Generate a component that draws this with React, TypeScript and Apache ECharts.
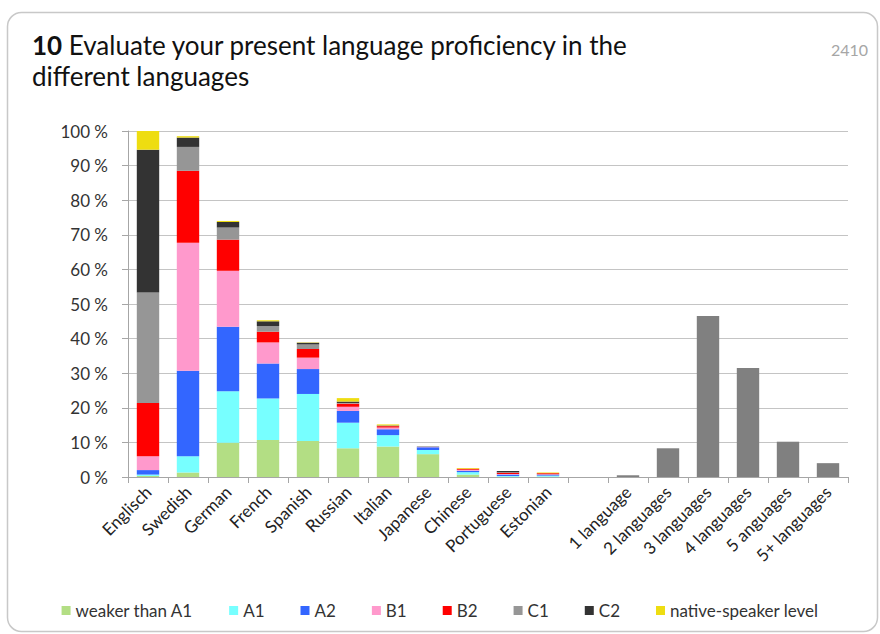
import React, { useEffect, useRef } from "react";
import * as echarts from "echarts";

const categories = [
  "Englisch", "Swedish", "German", "French", "Spanish", "Russian", "Italian",
  "Japanese", "Chinese", "Portuguese", "Estonian", "",
  "1 language", "2 languages", "3 languages", "4 languages", "5 anguages", "5+ languages",
];

const levelNames = ["weaker than A1", "A1", "A2", "B1", "B2", "C1", "C2", "native-speaker level"];
const levelColors = ["#b3de84", "#77ffff", "#3366ff", "#ff99cc", "#ff0000", "#969696", "#333333", "#eedd11"];

// values per language (first 11 categories), in percent
const weakerThanA1 = [0.3, 1.3, 9.9, 10.7, 10.4, 8.3, 8.8, 6.6, 0.7, 0.1, 0.1];
const a1 = [0.4, 4.7, 14.9, 12.0, 13.6, 7.4, 3.3, 1.2, 0.7, 0.2, 0.3];
const a2 = [1.3, 24.7, 18.6, 10.1, 7.2, 3.4, 1.7, 0.8, 0.4, 0.4, 0.3];
const b1 = [4.0, 37.0, 16.2, 6.1, 3.3, 1.2, 0.5, 0.1, 0.3, 0.2, 0.1];
const b2 = [15.4, 20.8, 9.0, 3.1, 2.5, 0.9, 0.4, 0.0, 0.3, 0.3, 0.3];
const c1 = [31.9, 6.9, 3.5, 1.6, 1.3, 0.2, 0.1, 0.2, 0.0, 0.2, 0.0];
const c2 = [41.3, 2.7, 1.6, 1.4, 0.5, 0.4, 0.1, 0.0, 0.0, 0.3, 0.0];
const native = [5.4, 0.4, 0.3, 0.3, 0.1, 1.0, 0.3, 0.0, 0.2, 0.0, 0.2];

// number of languages spoken (last 6 categories), in percent
const languageCounts = [0.5, 8.3, 46.5, 31.5, 10.2, 4.0];

const yTicks = { min: 0, max: 100, interval: 10 };

export default function App() {
  const ref = useRef<HTMLDivElement>(null);

  useEffect(() => {
    if (!ref.current) return;
    const chart = echarts.init(ref.current, null, { renderer: "svg" });
    const levels = [weakerThanA1, a1, a2, b1, b2, c1, c2, native];
    const nCat = categories.length;
    const levelSeries = levels.map((arr, i) => ({
      name: levelNames[i],
      type: "bar",
      stack: "total",
      barWidth: "56%",
      itemStyle: { color: levelColors[i] },
      data: categories.map((_, k) => (k < arr.length ? arr[k] : null)),
    }));
    const countSeries = {
      name: "count",
      type: "bar",
      stack: "total",
      barWidth: "56%",
      itemStyle: { color: "#808080" },
      data: categories.map((_, k) =>
        k >= nCat - languageCounts.length ? languageCounts[k - (nCat - languageCounts.length)] : null
      ),
    };

    chart.setOption({
      animation: false,
      textStyle: { fontFamily: "Lato" },
      title: {
        text: "{b|10} Evaluate your present language proficiency in the\ndifferent languages",
        left: 27,
        top: 24,
        textStyle: {
          fontFamily: "Lato",
          fontSize: 26,
          fontWeight: "normal",
          color: "#111111",
          lineHeight: 31,
          rich: {
            b: { fontFamily: "Lato", fontSize: 26, fontWeight: "bold", color: "#111111", lineHeight: 31 },
          },
        },
      },
      graphic: [
        {
          type: "rect",
          shape: { x: 7.5, y: 12.5, width: 870, height: 619, r: 14 },
          style: { fill: "none", stroke: "#c8c8c8", lineWidth: 1.5 },
          silent: true,
        },
        {
          type: "text",
          right: 12,
          top: 41,
          style: { text: "2410", fill: "#a6a6a6", fontSize: 16, fontFamily: "Lato" },
        },
      ],
      legend: {
        data: levelNames,
        bottom: 10,
        left: "center",
        itemWidth: 9,
        itemHeight: 9,
        itemGap: 36,
        icon: "rect",
        textStyle: { fontFamily: "Lato", fontSize: 17, color: "#333333" },
      },
      grid: { left: 128, right: 32, top: 131, bottom: 157, containLabel: false },
      xAxis: {
        type: "category",
        data: categories,
        axisLine: { lineStyle: { color: "#a6a6a6" } },
        axisTick: { show: true, length: 6, lineStyle: { color: "#a6a6a6" }, alignWithLabel: false },
        axisLabel: {
          interval: 0,
          rotate: 45,
          fontFamily: "Lato",
          fontSize: 17,
          color: "#222222",
          margin: 12,
        },
      },
      yAxis: {
        type: "value",
        min: yTicks.min,
        max: yTicks.max,
        interval: yTicks.interval,
        axisLine: { show: true, lineStyle: { color: "#a6a6a6" } },
        axisTick: { show: true, length: 6, lineStyle: { color: "#a6a6a6" } },
        splitLine: { lineStyle: { color: "#c4c4c4", width: 1 } },
        axisLabel: {
          formatter: "{value} %",
          fontFamily: "Lato",
          fontSize: 17,
          color: "#333333",
          margin: 20,
        },
      },
      series: [...levelSeries, countSeries],
    });
    return () => chart.dispose();
  }, []);

  return (
    <div
      ref={ref}
      style={{ position: "fixed", left: 0, top: 0, width: 880, height: 634, background: "#ffffff" }}
    />
  );
}
